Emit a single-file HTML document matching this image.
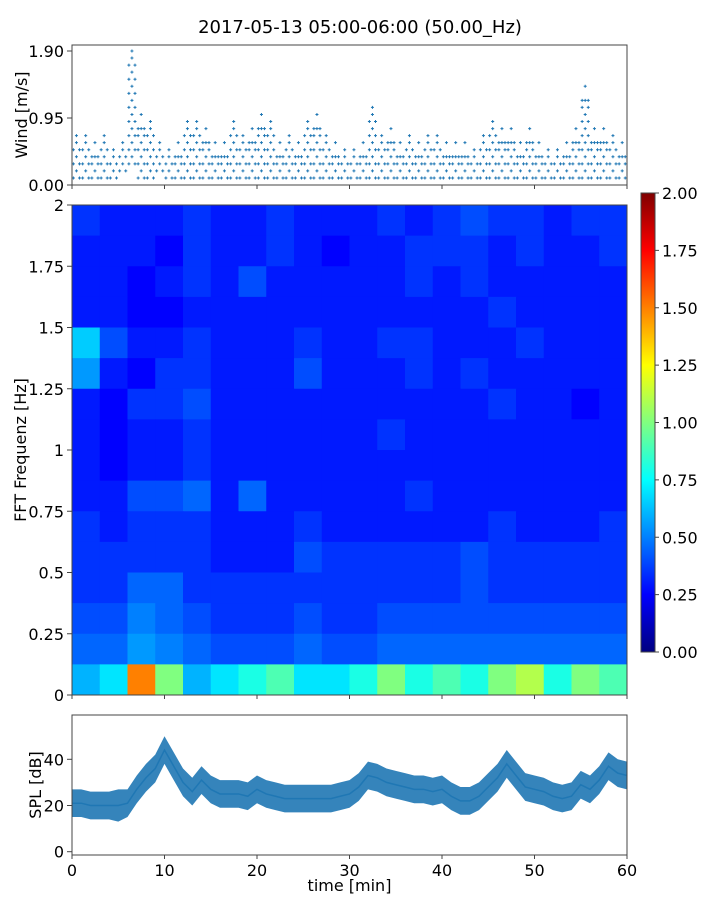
<!DOCTYPE html>
<html><head><meta charset="utf-8"><style>
body{margin:0;background:#fff;}
svg{display:block;font-family:"DejaVu Sans","Liberation Sans",sans-serif;}
</style></head><body>
<svg id="fig" width="720" height="900" viewBox="0 0 720 900">
<text x="360" y="33" text-anchor="middle" font-size="18">2017-05-13 05:00-06:00 (50.00_Hz)</text>
<g id="wind"></g>
<g id="spec"></g>
<g id="cbar"></g>
<g id="spl"></g>
</svg>
<script>
// ---- data ----
const windMinutes = [0,1,2,3,4,5,6,7,8,9,10,11,12,13,14,15,16,17,18,19,20,21,22,23,24,25,26,27,28,29,30,31,32,33,34,35,36,37,38,39,40,41,42,43,44,45,46,47,48,49,50,51,52,53,54,55,56,57,58,59];
const windMax = [0.7,0.7,0.6,0.7,0.5,0.6,1.9,1.0,0.9,0.6,0.5,0.6,0.9,0.9,0.8,0.6,0.6,0.9,0.7,0.8,1.0,0.9,0.6,0.7,0.6,0.9,1.0,0.7,0.6,0.5,0.5,0.6,1.1,0.7,0.8,0.6,0.7,0.6,0.7,0.7,0.6,0.6,0.6,0.5,0.7,0.9,0.8,0.8,0.6,0.8,0.6,0.5,0.5,0.6,0.8,1.4,0.8,0.8,0.7,0.6];
const windMin = [0.1,0.1,0.1,0.1,0.1,0.2,0.3,0.1,0.1,0.2,0.1,0.1,0.1,0.1,0.1,0.1,0.1,0.1,0.1,0.1,0.1,0.1,0.1,0.1,0.1,0.1,0.1,0.1,0.1,0.1,0.1,0.1,0.1,0.1,0.1,0.1,0.1,0.1,0.1,0.1,0.1,0.1,0.1,0.1,0.1,0.1,0.1,0.1,0.1,0.1,0.1,0.1,0.1,0.1,0.1,0.1,0.1,0.1,0.1,0.1];
const windTicks = [0.00,0.95,1.90];

const specFreqEdges = [2.0,1.875,1.75,1.625,1.5,1.375,1.25,1.125,1.0,0.875,0.75,0.625,0.5,0.375,0.25,0.125,0.0];
const specValues = [
[0.35,0.3,0.3,0.3,0.35,0.3,0.3,0.35,0.3,0.3,0.3,0.35,0.3,0.35,0.4,0.35,0.35,0.3,0.35,0.35],
[0.3,0.3,0.3,0.25,0.35,0.3,0.3,0.35,0.3,0.25,0.3,0.3,0.35,0.35,0.35,0.3,0.35,0.3,0.3,0.35],
[0.3,0.3,0.25,0.3,0.35,0.3,0.4,0.3,0.3,0.3,0.3,0.3,0.35,0.3,0.35,0.3,0.3,0.3,0.3,0.3],
[0.3,0.3,0.25,0.25,0.3,0.3,0.3,0.3,0.3,0.3,0.3,0.3,0.3,0.3,0.3,0.35,0.3,0.3,0.3,0.3],
[0.65,0.4,0.3,0.3,0.35,0.3,0.3,0.3,0.35,0.3,0.3,0.35,0.35,0.3,0.3,0.3,0.35,0.3,0.3,0.3],
[0.55,0.3,0.25,0.35,0.35,0.3,0.3,0.3,0.4,0.3,0.3,0.3,0.35,0.3,0.35,0.3,0.3,0.3,0.3,0.3],
[0.3,0.25,0.35,0.35,0.4,0.3,0.3,0.3,0.3,0.3,0.3,0.3,0.3,0.3,0.3,0.35,0.3,0.3,0.25,0.3],
[0.3,0.25,0.3,0.3,0.35,0.3,0.3,0.3,0.3,0.3,0.3,0.35,0.3,0.3,0.3,0.3,0.3,0.3,0.3,0.3],
[0.3,0.25,0.3,0.3,0.35,0.3,0.3,0.3,0.3,0.3,0.3,0.3,0.3,0.3,0.3,0.3,0.3,0.3,0.3,0.3],
[0.3,0.3,0.4,0.4,0.45,0.3,0.45,0.3,0.3,0.3,0.3,0.3,0.35,0.3,0.3,0.3,0.3,0.3,0.3,0.3],
[0.35,0.3,0.35,0.35,0.35,0.3,0.3,0.3,0.35,0.3,0.3,0.3,0.3,0.3,0.3,0.35,0.3,0.3,0.3,0.35],
[0.35,0.35,0.35,0.35,0.35,0.3,0.3,0.3,0.4,0.35,0.35,0.35,0.35,0.35,0.4,0.35,0.35,0.35,0.35,0.35],
[0.35,0.35,0.45,0.45,0.35,0.35,0.35,0.35,0.35,0.35,0.35,0.35,0.35,0.35,0.4,0.35,0.35,0.35,0.35,0.35],
[0.4,0.4,0.5,0.45,0.4,0.35,0.35,0.35,0.4,0.35,0.35,0.4,0.4,0.4,0.4,0.4,0.4,0.4,0.4,0.4],
[0.45,0.45,0.55,0.5,0.45,0.4,0.4,0.4,0.45,0.4,0.4,0.45,0.45,0.45,0.45,0.45,0.45,0.45,0.45,0.45],
[0.6,0.7,1.5,1.0,0.6,0.7,0.8,0.9,0.7,0.7,0.8,1.0,0.8,0.9,0.8,1.0,1.1,0.8,1.0,0.9]
];
const specYTicks = [0,0.25,0.5,0.75,1,1.25,1.5,1.75,2];
const specYLabels = ["0","0.25","0.5","0.75","1","1.25","1.5","1.75","2"];
const cbarTicks = [0,0.25,0.5,0.75,1,1.25,1.5,1.75,2];

const splMinutes = [0,1,2,3,4,5,6,7,8,9,10,11,12,13,14,15,16,17,18,19,20,21,22,23,24,25,26,27,28,29,30,31,32,33,34,35,36,37,38,39,40,41,42,43,44,45,46,47,48,49,50,51,52,53,54,55,56,57,58,59,60];
const splMean = [21,21,20,20,20,20,21,27,32,36,44,37,30,26,31,27,25,25,25,24,27,25,24,23,23,23,23,23,23,24,25,28,33,32,30,29,28,27,27,26,27,24,22,22,24,28,32,38,33,28,27,26,24,23,24,29,27,31,37,34,33];
const splHalf = [6,6,6,6,6,7,6,6,6,6,6,6,6,6,6,6,6,6,6,6,6,6,6,6,6,6,6,6,6,6,6,6,6,6,6,6,6,6,6,6,6,6,6,6,6,6,6,6,6,6,6,6,6,6,6,6,6,6,6,6,6];
const splTicks = [0,20,40];
const xTicks = [0,10,20,30,40,50,60];

// ---- helpers ----
const NS="http://www.w3.org/2000/svg";
function mk(tag,attrs,parent){const e=document.createElementNS(NS,tag);for(const k in attrs)e.setAttribute(k,attrs[k]);parent.appendChild(e);return e;}
function jet(v){const t=Math.max(0,Math.min(1,v));
 const r=Math.max(0,Math.min(1,Math.min(4*t-1.5,-4*t+4.5)));
 const g=Math.max(0,Math.min(1,Math.min(4*t-0.5,-4*t+3.5)));
 const b=Math.max(0,Math.min(1,Math.min(4*t+0.5,-4*t+2.5)));
 return `rgb(${Math.round(r*255)},${Math.round(g*255)},${Math.round(b*255)})`;}
const X0=72,X1=627;
const xs=m=>X0+(X1-X0)*m/60;
const AX="#444";
const FS=16;

function frame(g,y0,y1,name){
 const r=mk('rect',{x:X0,y:y0,width:X1-X0,height:y1-y0,fill:'none',stroke:AX,'stroke-width':1},g);
 
 
}
function yTick(g,y,label,xl){
 mk('line',{x1:xl-5,x2:xl,y1:y,y2:y,stroke:AX},g);
 const t=mk('text',{x:xl-8,y:y+6,'text-anchor':'end','font-size':FS},g);t.textContent=label;
 
 
}

// ---- wind panel ----
const gw=document.getElementById('wind');
const WY0=45,WY1=185;
const wy=v=>185-v*(134/1.9);
for(let i=0;i<windMinutes.length;i++){
 const mx=windMax[i],mn=windMin[i];
 for(let s=0;s<3;s++){
  const t=windMinutes[i]+s*0.33+0.15;
  const top = (s===1)?mx:Math.max(mn,mx-0.2);
  let k=0;
  for(let lv=mn;lv<=top+1e-6;lv+=0.1,k++){
   if((k+s)%2===1 && lv<top-0.05) continue;
   const x=xs(t),y=wy(lv);
   const p=mk('path',{d:`M${x-1.5},${y}h3M${x},${y-1.5}v3`,stroke:'#1f77b4','stroke-width':1},gw);
   
   
  }
 }
}
frame(gw,WY0,WY1,'wind-axes');
windTicks.forEach(v=>yTick(gw,wy(v),v.toFixed(2),X0));
xTicks.forEach(v=>mk('line',{x1:xs(v),x2:xs(v),y1:WY1,y2:WY1+4,stroke:AX},gw));
{const t=mk('text',{x:0,y:0,'text-anchor':'middle','font-size':FS,transform:`translate(27,${(WY0+WY1)/2}) rotate(-90)`},gw);t.textContent='Wind [m/s]';
}

// ---- spectrogram ----
const gs=document.getElementById('spec');
const SY0=205,SY1=695;
const fy=f=>SY1-(SY1-SY0)*f/2;
const nc=specValues[0].length;
for(let r=0;r<specValues.length;r++){
 for(let c=0;c<nc;c++){
  const x0=xs(60*c/nc),x1=xs(60*(c+1)/nc);
  const y0=fy(specFreqEdges[r]),y1=fy(specFreqEdges[r+1]);
  const rc=mk('rect',{x:x0,y:y0,width:x1-x0+0.5,height:y1-y0+0.5,fill:jet(specValues[r][c]/2)},gs);
  
  
 }
}
frame(gs,SY0,SY1,'spectrogram-axes');
specYTicks.forEach((v,i)=>yTick(gs,fy(v),specYLabels[i],X0));
xTicks.forEach(v=>mk('line',{x1:xs(v),x2:xs(v),y1:SY1,y2:SY1+4,stroke:AX},gs));
{const t=mk('text',{x:0,y:0,'text-anchor':'middle','font-size':FS,transform:`translate(26,${(SY0+SY1)/2}) rotate(-90)`},gs);t.textContent='FFT Frequenz [Hz]';
}

// ---- colorbar ----
const gc=document.getElementById('cbar');
const CX0=641,CX1=655,CY0=193,CY1=652;
const defs=mk('defs',{},gc);
const lg=mk('linearGradient',{id:'jetg',x1:0,y1:1,x2:0,y2:0},defs);
for(let i=0;i<=16;i++)mk('stop',{offset:i/16,'stop-color':jet(i/16)},lg);
const cr=mk('rect',{x:CX0,y:CY0,width:CX1-CX0,height:CY1-CY0,fill:'url(#jetg)',stroke:AX},gc);


const cy=v=>CY1-(CY1-CY0)*v/2;
cbarTicks.forEach(v=>{
 mk('line',{x1:CX1,x2:CX1+4,y1:cy(v),y2:cy(v),stroke:AX},gc);
 const t=mk('text',{x:CX1+7,y:cy(v)+6,'font-size':FS},gc);t.textContent=v.toFixed(2);
 
 
});

// ---- SPL ----
const gp=document.getElementById('spl');
const PY0=715,PY1=855;
const py=v=>851.7-v*2.31;
let up='',dn='',ln='';
splMinutes.forEach((m,i)=>{up+=(i?'L':'M')+xs(m)+','+py(splMean[i]+splHalf[i]);ln+=(i?'L':'M')+xs(m)+','+py(splMean[i]);});
for(let i=splMinutes.length-1;i>=0;i--)dn+='L'+xs(splMinutes[i])+','+py(splMean[i]-splHalf[i]);
const band=mk('path',{d:up+dn+'Z',fill:'#1f77b4','fill-opacity':0.9},gp);


const line=mk('path',{d:ln,fill:'none',stroke:'#1f77b4','stroke-width':1.5},gp);


frame(gp,PY0,PY1,'spl-axes');
splTicks.forEach(v=>yTick(gp,py(v),String(v),X0));
xTicks.forEach(v=>{
 mk('line',{x1:xs(v),x2:xs(v),y1:PY1,y2:PY1+4,stroke:AX},gp);
 const t=mk('text',{x:xs(v),y:PY1+21,'text-anchor':'middle','font-size':FS},gp);t.textContent=v;
 
 
});
{const t=mk('text',{x:0,y:0,'text-anchor':'middle','font-size':FS,transform:`translate(41,${(PY0+PY1)/2}) rotate(-90)`},gp);t.textContent='SPL [dB]';
}
{const t=mk('text',{x:(X0+X1)/2,y:891,'text-anchor':'middle','font-size':FS},gp);t.textContent='time [min]';
}
</script>
</body></html>
